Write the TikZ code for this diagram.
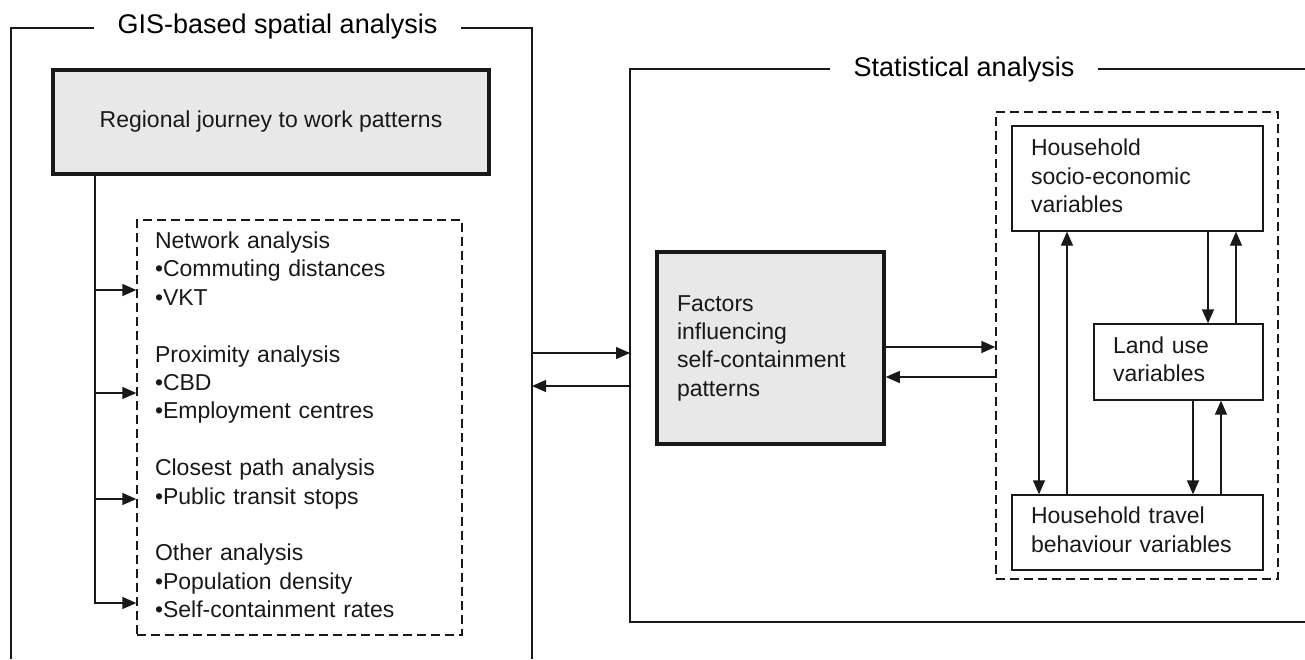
\documentclass[tikz,border=0pt]{standalone}
\usepackage{fontspec}
\setmainfont{Liberation Sans}
\usetikzlibrary{arrows.meta}
\definecolor{boxgray}{RGB}{232,232,232}
\definecolor{ink}{RGB}{25,25,25}
\begin{document}
\begin{tikzpicture}[x=1pt,y=-1pt,
  body/.style={font=\fontsize{23}{28.4}\selectfont, text=ink},
  ttl/.style={font=\fontsize{27}{32}\selectfont, text=black, inner sep=0pt, anchor=base},
  frameline/.style={draw=ink, line width=1.4pt},
  thinbox/.style={draw=ink, line width=1.3pt, fill=white, body, align=left, inner xsep=19pt, inner ysep=0pt},
  graybox/.style={draw=ink, line width=3.5pt, fill=boxgray, body, inner sep=0pt},
  dashbox/.style={draw=ink, line width=1.3pt, dash pattern=on 9pt off 5pt, body, align=left, inner ysep=0pt},
  arr/.style={draw=ink, line width=1.3pt, -{Triangle[length=14pt,width=12pt]}}
]
\useasboundingbox (0,0) rectangle (1305,659);

% ---------- GIS frame ----------
\node[ttl] (gistitle) at (277.5,33.5) {GIS-based spatial analysis};
\draw[frameline] (11,659) -- (11,28) -- (94,28);
\draw[frameline] (461,28) -- (532,28) -- (532,659);
\coordinate (gisR) at (532,0);

\node[graybox, minimum width=436pt, minimum height=104pt, align=center] (rjw) at (271,122)
  {Regional journey to work patterns};

\node[dashbox, minimum width=325pt, minimum height=415pt, text width=289pt, inner xsep=18pt] (ana) at (299.5,427.5)
  {\strut Network analysis\\
   •Commuting distances\\
   •VKT\\[28.4pt]
   Proximity analysis\\
   •CBD\\
   •Employment centres\\[28.4pt]
   Closest path analysis\\
   •Public transit stops\\[28.4pt]
   Other analysis\\
   •Population density\\
   •Self-containment rates\strut};

\coordinate (trunk) at (95,0);
\draw[arr] (rjw.south -| trunk) |- (ana.west |- 0,603);
\draw[arr] (trunk |- 0,290) -- (ana.west |- 0,290);
\draw[arr] (trunk |- 0,393) -- (ana.west |- 0,393);
\draw[arr] (trunk |- 0,499) -- (ana.west |- 0,499);

% ---------- Statistical frame ----------
\node[ttl] (stattitle) at (964,76.5) {Statistical analysis};
\draw[frameline] (1305,622) -- (630,622) -- (630,69) -- (830,69);
\draw[frameline] (1098,69) -- (1305,69);
\coordinate (statL) at (630,0);

\draw[arr] (gisR |- 0,353) -- (statL |- 0,353);
\draw[arr] (statL |- 0,386) -- (gisR |- 0,386);

\node[graybox, minimum width=227pt, minimum height=192pt, text width=187pt, align=left, inner xsep=20pt] (fac) at (770.5,348)
  {\strut Factors\\ influencing\\ self-containment\\ patterns\strut};

\node[dashbox, minimum width=282pt, minimum height=467pt] (vars) at (1137,345.5) {};

\draw[arr] (fac.east |- 0,347) -- (vars.west |- 0,347);
\draw[arr] (vars.west |- 0,377) -- (fac.east |- 0,377);

\node[thinbox, minimum width=251pt, minimum height=105pt, text width=213pt] (socio) at (1137.5,178.5)
  {\strut Household\\ socio-economic\\ variables\strut};
\node[thinbox, minimum width=169pt, minimum height=76pt, text width=131pt] (land) at (1178.5,362)
  {\strut Land use\\ variables\strut};
\node[thinbox, minimum width=251pt, minimum height=75pt, text width=213pt] (travel) at (1137.5,532.5)
  {\strut Household travel\\ behaviour variables\strut};

\coordinate (c1) at (1039,0);
\coordinate (c2) at (1067,0);
\coordinate (c3) at (1208,0);
\coordinate (c4) at (1236,0);
\coordinate (c5) at (1193,0);
\coordinate (c6) at (1221,0);

\draw[arr] (socio.south -| c1) -- (travel.north -| c1);
\draw[arr] (travel.north -| c2) -- (socio.south -| c2);
\draw[arr] (socio.south -| c3) -- (land.north -| c3);
\draw[arr] (land.north -| c4) -- (socio.south -| c4);
\draw[arr] (land.south -| c5) -- (travel.north -| c5);
\draw[arr] (travel.north -| c6) -- (land.south -| c6);
\end{tikzpicture}
\end{document}
